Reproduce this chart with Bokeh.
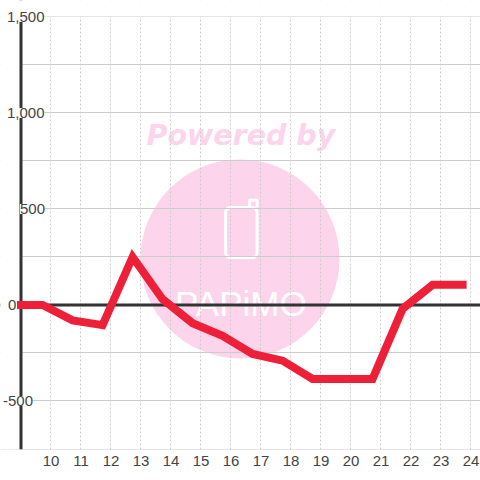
from bokeh.plotting import figure
from bokeh.embed import file_html
from bokeh.resources import INLINE
from bokeh.models import (ColumnDataSource, LabelSet, Span, BoxAnnotation, FixedTicker, Range1d)
from bokeh.core.properties import value

hours = [9, 9.72, 10.72, 11.72, 12.72, 13.72, 14.72, 15.72, 16.72, 17.72, 18.72, 19.72, 20.72, 21.72, 22.72, 23.72]
values = [0, 0, -80, -105, 250, 30, -95, -160, -255, -290, -385, -385, -385, -20, 105, 105]
x_ticks = list(range(10, 25))
y_grid = [1500, 1250, 1000, 750, 500, 250, 0, -250, -500, -750]
y_labels = ["1,500", "1,000", "500", "0", "-500"]
y_label_values = [1500, 1000, 500, 0, -500]
y_label_offsets = [-14, -14, -1, -13, -18]

RED = "#ee2039"
DARK = "#333333"
GREY = "#cccccc"
PINK = "#fcd5ec"
TEXT = "#444444"
FONT = "Liberation Sans"

p = figure(width=480, height=480,
           x_range=Range1d(8.3167, 24.3167), y_range=Range1d(-752.6, 1585.9),
           output_backend="svg", toolbar_location=None,
           min_border_left=0, min_border_right=0, min_border_top=0, min_border_bottom=31)
p.outline_line_color = None
p.background_fill_color = "white"
p.border_fill_color = "white"
p.yaxis.visible = False

ax = p.xaxis[0]
ax.ticker = FixedTicker(ticks=x_ticks)
ax.axis_line_color = None
ax.major_tick_line_color = None
ax.minor_tick_line_color = None
ax.major_label_standoff = 0
ax.major_label_text_font = FONT
ax.major_label_text_font_size = "15px"
ax.major_label_text_color = TEXT

g = p.xgrid[0]
g.ticker = FixedTicker(ticks=x_ticks)
g.grid_line_color = GREY
g.grid_line_dash = "2 2"
g.grid_line_width = 1

g = p.ygrid[0]
g.ticker = FixedTicker(ticks=y_grid)
g.grid_line_color = GREY
g.grid_line_width = 1

# watermark, behind the grid
p.scatter([16.3], [240], size=199, marker="circle", fill_color=PINK, line_color=None, level="image")
p.text([16.33], [883], text=["Powered by"], text_font=value("DejaVu Sans"),
       text_font_style="bold italic", text_font_size="28.5px", text_color=PINK,
       text_align="center", text_baseline="middle", level="image")
p.quad(left=[15.82], right=[16.87], bottom=[247], top=[508], fill_color=None, line_color="white",
       line_width=3, border_radius=5, level="image")
p.line([16.62, 16.62, 16.87, 16.87], [508, 545, 545, 508], line_color="white", line_width=3,
       line_join="round", level="image")
p.text([16.33], [8], text=["PAPiMO"], text_font=value("Liberation Sans"),
       text_font_size="35px", text_color="white", text_align="center",
       text_baseline="alphabetic", level="image")

# zero line and axis line; white boxes hide grid outside the plot area
p.add_layout(Span(dimension="width", location=0, line_color=DARK, line_width=3, level="annotation"))
p.add_layout(BoxAnnotation(right=9, fill_color="white", fill_alpha=1, line_color=None, level="annotation"))
p.add_layout(Span(dimension="height", location=9, line_color=DARK, line_width=3, level="annotation"))
p.add_layout(BoxAnnotation(bottom=1502.6, fill_color="white", fill_alpha=1, line_color=None, level="annotation"))

p.line(hours, values, line_color=RED, line_width=8, line_cap="square", line_join="miter", level="overlay")

src = ColumnDataSource(dict(x=[9] * len(y_labels), y=y_label_values, t=y_labels, o=y_label_offsets))
labels = LabelSet(x="x", y="y", text="t", x_offset="o", source=src, text_font=value(FONT),
                  text_font_size="15px", text_color=TEXT, text_baseline="middle", text_align="left",
                  background_fill_color="white", background_fill_alpha=1, level="overlay")
p.add_layout(labels)

open("out.html", "w").write(file_html(p, INLINE))
